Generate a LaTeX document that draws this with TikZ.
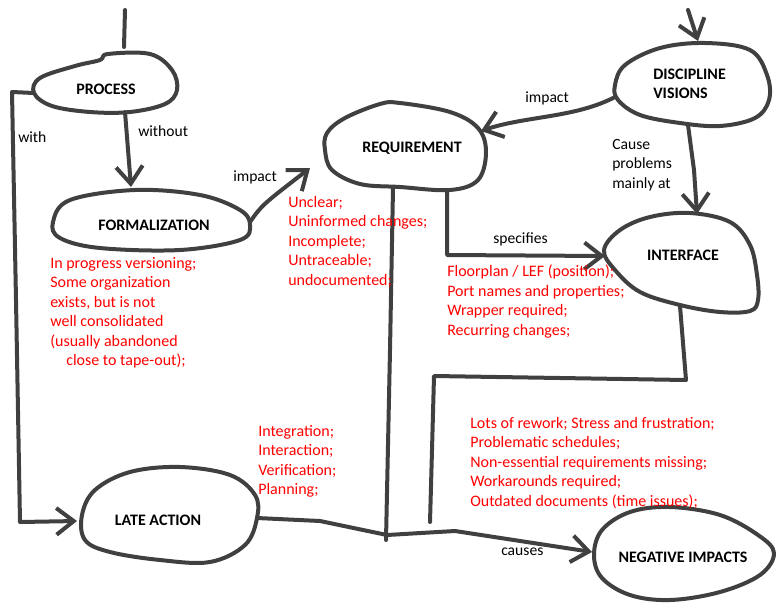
\documentclass[tikz,border=0pt]{standalone}
\usepackage{fontspec}
\setmainfont{Carlito}
\usetikzlibrary{arrows.meta}
\definecolor{ink}{HTML}{404040}
\definecolor{redtxt}{HTML}{FF0000}
\begin{document}
\begin{tikzpicture}[x=0.75pt,y=-0.75pt,
  blob/.style={draw=ink, line width=3pt, line join=round},
  conn/.style={draw=ink, line width=3pt, line cap=round, line join=round},
  arr/.style={conn, -{Straight Barb[length=13pt,width=20pt,line width=3pt]}},
  title/.style={font=\bfseries\fontsize{12}{14.4}\selectfont, inner sep=0pt, align=left},
  lbl/.style={font=\fontsize{11.7}{14.6}\selectfont, inner sep=0pt, align=left},
  note/.style={font=\fontsize{12}{14.6}\selectfont, text=redtxt, inner sep=0pt, align=left, anchor=north west},
]
\useasboundingbox (0,0) rectangle (777,603);

% ---------- blobs ----------
\draw[blob] plot[smooth cycle, tension=0.6] coordinates {(108,54) (150,54) (172,70) (177,90) (165,104) (130,112) (90,112) (52,106) (34,93) (40,78) (75,66) (100,60)};
\draw[blob] plot[smooth cycle, tension=0.6] coordinates {(70,200) (135,190) (200,195) (240,210) (250,225) (240,240) (180,250) (100,248) (60,238) (53,222)};
\draw[blob] plot[smooth cycle, tension=0.6] coordinates {(327,133) (345,118) (380,104) (400,103) (450,112) (478,128) (486,152) (478,180) (450,190) (400,187) (360,184) (332,170) (325,150)};
\draw[blob] plot[smooth cycle, tension=0.6] coordinates {(625,65) (660,48) (705,43) (750,50) (767,75) (769,100) (755,118) (720,126) (680,123) (640,115) (618,100) (615,85)};
\draw[blob] plot[smooth cycle, tension=0.6] coordinates {(604,250) (620,230) (650,217) (690,213) (730,222) (750,245) (757,275) (758,300) (750,311) (720,312) (680,305) (640,292) (615,270)};
\draw[blob] plot[smooth cycle, tension=0.6] coordinates {(95,490) (130,472) (180,467) (230,475) (255,495) (257,518) (245,545) (210,562) (160,560) (110,552) (85,540) (82,515)};
\draw[blob] plot[smooth cycle, tension=0.6] coordinates {(602,530) (630,512) (670,507) (720,515) (758,535) (774,553) (760,575) (720,592) (670,600) (630,595) (602,578) (594,555)};

% ---------- titles ----------
\node[title] (process) at (106,89) {PROCESS};
\node[title] (formal) at (154,225) {FORMALIZATION};
\node[title] (req) at (412,148) {REQUIREMENT};
\node[title, anchor=west] (disc) at (653,84) {DISCIPLINE\\VISIONS};
\node[title] (iface) at (683,255) {INTERFACE};
\node[title] (late) at (158,520) {LATE ACTION};
\node[title] (neg) at (683,557) {NEGATIVE IMPACTS};

% ---------- connection points ----------
\coordinate (procTopIn) at (125,10);
\coordinate (procN) at (124,47);
\coordinate (procS) at (125,112);
\coordinate (procW) at (34,93);
\coordinate (formN) at (131,187);
\coordinate (formE) at (250,222);
\coordinate (reqW) at (310,168);
\coordinate (reqE) at (481,131);
\coordinate (reqS1) at (393,188);
\coordinate (reqS2) at (447,190);
\coordinate (reqEnd) at (386,540);
\coordinate (discTopIn) at (688,10);
\coordinate (discN) at (698,41);
\coordinate (discW) at (615,97);
\coordinate (discS) at (688,125);
\coordinate (ifaceN) at (697,214);
\coordinate (ifaceW) at (605,256);
\coordinate (ifaceS) at (680,306);
\coordinate (ifaceEnd) at (430,522);
\coordinate (lateW) at (77,521);
\coordinate (lateE) at (257,518);
\coordinate (negW) at (592,552);

% ---------- connectors ----------
\draw[conn] (procTopIn) -- (procN);
\draw[arr] (procS) -- (formN);
\draw[arr] (procW) -- (12,92) -- (16,300) -- (20,522) -- (lateW);
\draw[arr] (formE) .. controls (262,205) .. (reqW);
\draw[arr] (discW) .. controls (575,118) and (525,116) .. (reqE);
\draw[arr] (discTopIn) -- (discN);
\draw[arr] (discS) -- (694,170) -- (ifaceN);
\draw[arr] (reqS2) -- (447,255) -- (ifaceW);
\draw[conn] (reqS1) -- (390,350) -- (reqEnd);
\draw[conn] (ifaceS) -- (686,380) -- (434,376) -- (432,450) -- (ifaceEnd);
\draw[arr] (lateE) -- (320,521) -- (387,535) -- (455,531) -- (negW);

% ---------- labels ----------
\node[lbl, anchor=west] (lwithout) at (138,131) {without};
\node[lbl, anchor=west] (lwith) at (18,137) {with};
\node[lbl, anchor=west] (limp1) at (233,177) {impact};
\node[lbl, anchor=west] (limp2) at (525,98) {impact};
\node[lbl, anchor=north west] (lcause) at (612,139) {Cause\\problems\\mainly at};
\node[lbl, anchor=west] (lspec) at (493,239) {specifies};
\node[lbl, anchor=west] (lcauses) at (501,552) {causes};

% ---------- notes ----------
\node[note] (nform) at (50,257) {In progress versioning;\\Some organization\\exists, but is not\\well consolidated\\(usually abandoned\\\hspace*{12pt}close to tape-out);};
\node[note] (nreq) at (288,196) {Unclear;\\Uninformed changes;\\Incomplete;\\Untraceable;\\undocumented;};
\node[note] (niface) at (447,265) {Floorplan / LEF (position);\\Port names and properties;\\Wrapper required;\\Recurring changes;};
\node[note] (nlate) at (258,425) {Integration;\\Interaction;\\Verification;\\Planning;};
\node[note] (nneg) at (470,417) {Lots of rework; Stress and frustration;\\Problematic schedules;\\Non-essential requirements missing;\\Workarounds required;\\Outdated documents (time issues);};
\end{tikzpicture}
\end{document}
